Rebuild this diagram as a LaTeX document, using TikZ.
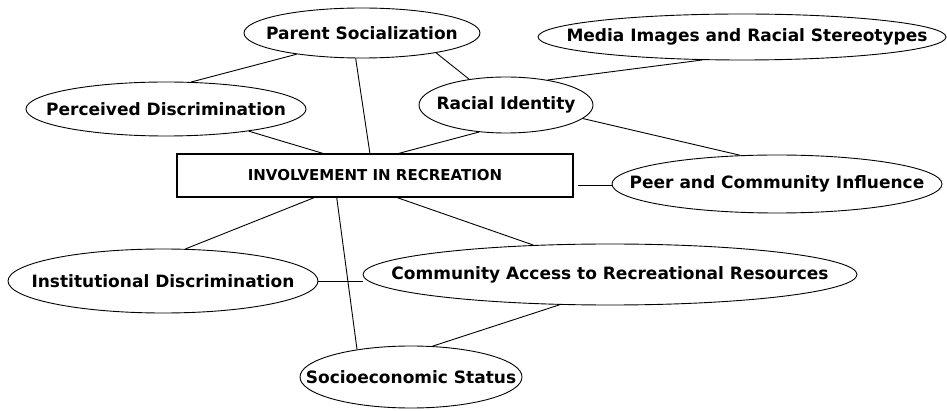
\documentclass[tikz,border=0pt]{standalone}
\usepackage{fontspec}
\setmainfont{DejaVu Sans}
\usetikzlibrary{shapes.geometric}
\begin{document}
\begin{tikzpicture}[x=1pt,y=-1pt,
  ell/.style={draw, ellipse, line width=0.9pt, inner sep=0pt},
  elltext/.style={font=\fontsize{17}{19}\selectfont\bfseries, inner sep=0pt},
  mainbox/.style={draw, rectangle, line width=1.2pt, inner sep=0pt, font=\fontsize{15}{17}\selectfont\bfseries},
  conn/.style={line width=0.9pt}]
\useasboundingbox (0,0) rectangle (947,411);
\node[mainbox, minimum width=396, minimum height=43] (box) at (375,175.5) {INVOLVEMENT IN RECREATION};
\node[ell, minimum width=236, minimum height=50, label={[elltext]center:Parent Socialization}] (ps) at (362,33) {};
\node[ell, minimum width=280, minimum height=54, label={[elltext]center:Perceived Discrimination}] (pd) at (166,109) {};
\node[ell, minimum width=174, minimum height=56, label={[elltext]center:Racial Identity}] (ri) at (506,105) {};
\node[ell, minimum width=408, minimum height=46, label={[elltext,xshift=5pt]center:Media Images and Racial Stereotypes}] (mi) at (742,37) {};
\node[ell, minimum width=330, minimum height=58, label={[elltext]center:Peer and Community Influence}] (pc) at (777,184) {};
\node[ell, minimum width=310, minimum height=64, label={[elltext]center:Institutional Discrimination}] (id) at (163,281) {};
\node[ell, minimum width=494, minimum height=61, label={[elltext]center:Community Access to Recreational Resources}] (ca) at (610,274.5) {};
\node[ell, minimum width=222, minimum height=62, label={[elltext]center:Socioeconomic Status}] (se) at (411,377) {};
\draw[conn] (ps.198) -- (pd.47);
\draw[conn] (ps.256.5) -- (box.103);
\draw[conn] (ps.345) -- (ri.145);
\draw[conn] (pd.345) -- (box.157.5);
\draw[conn] (box.43.1) -- (ri.225);
\draw[conn] (mi.210.5) -- (ri.31);
\draw[conn] (ri.350) -- (pc.142);
\draw[conn] ([xshift=4pt]box.-3) -- (box.-3 -| pc.west);
\draw[conn] (box.200.7) -- (id.55);
\draw[conn] (box.210.2) -- (se.153);
\draw[conn] (box.315.7) -- (ca.159);
\draw[conn] (id.east) -- (id.east -| ca.west);
\draw[conn] (ca.211) -- (se.55);
\end{tikzpicture}
\end{document}
